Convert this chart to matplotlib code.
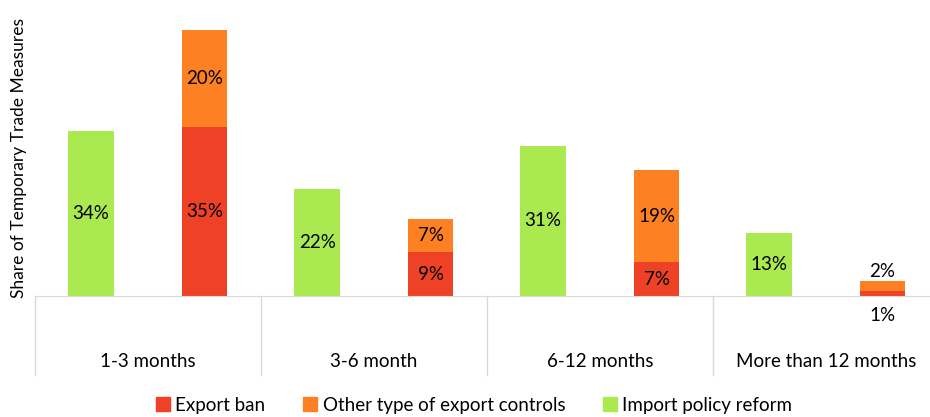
import numpy as np
import matplotlib.pyplot as plt
from matplotlib.patches import Patch

categories = ['1-3 months', '3-6 month', '6-12 months', 'More than 12 months']
import_reform = [34, 22, 31, 13]
export_ban = [35, 9, 7, 1]
other_controls = [20, 7, 19, 2]

col_ban = '#EE4126'
col_other = '#FD8023'
col_import = '#AAEA50'

plt.rcParams['font.family'] = ['Lato', 'DejaVu Sans']
fs = 13.5

fig = plt.figure(figsize=(9.3, 4.17), dpi=100)
ax = fig.add_axes([35/930, 121/417, 904/930, 276/417])

x = np.arange(len(categories)) + 0.5
w = 0.2
ax.bar(x - 0.252, import_reform, w, color=col_import)
ax.bar(x + 0.25, export_ban, w, color=col_ban)
ax.bar(x + 0.25, other_controls, w, bottom=export_ban, color=col_other)

for i in range(len(categories)):
    ax.text(x[i] - 0.252, import_reform[i] / 2, f'{import_reform[i]}%',
            ha='center', va='center', fontsize=fs)
    if i < 3:
        ax.text(x[i] + 0.25, export_ban[i] / 2, f'{export_ban[i]}%',
                ha='center', va='center', fontsize=fs)
        ax.text(x[i] + 0.25, export_ban[i] + other_controls[i] / 2,
                f'{other_controls[i]}%', ha='center', va='center', fontsize=fs)
    else:
        tot = export_ban[i] + other_controls[i]
        ax.text(x[i] + 0.25, tot + 0.4, f'{other_controls[i]}%',
                ha='center', va='bottom', fontsize=fs)
        ax.text(x[i] + 0.25, -4, f'{export_ban[i]}%',
                ha='center', va='center', fontsize=fs)

ax.set_xlim(0, 4)
ax.set_ylim(0, 57)
for s in ['top', 'right', 'left']:
    ax.spines[s].set_visible(False)
ax.spines['bottom'].set_color('#d9d9d9')
ax.set_xticks([])
ax.set_yticks([])

# category separators below the axis
for b in range(5):
    ax.plot([b, b], [0, -16.3], color='#d9d9d9', lw=1, clip_on=False)
for i, c in enumerate(categories):
    ax.text(x[i], -13.6, c, ha='center', va='center', fontsize=fs)

ax.set_ylabel('Share of Temporary Trade Measures', fontsize=12.5, labelpad=6)

handles = [Patch(color=col_ban, label='Export ban'),
           Patch(color=col_other, label='Other type of export controls'),
           Patch(color=col_import, label='Import policy reform')]
fig.legend(handles=handles, loc='center', bbox_to_anchor=(474/930, 1 - 405/417),
           ncol=3, frameon=False, fontsize=fs, handlelength=0.75, handleheight=0.75,
           handletextpad=0.3, columnspacing=2.0)

fig.savefig('out.png', dpi=100)
